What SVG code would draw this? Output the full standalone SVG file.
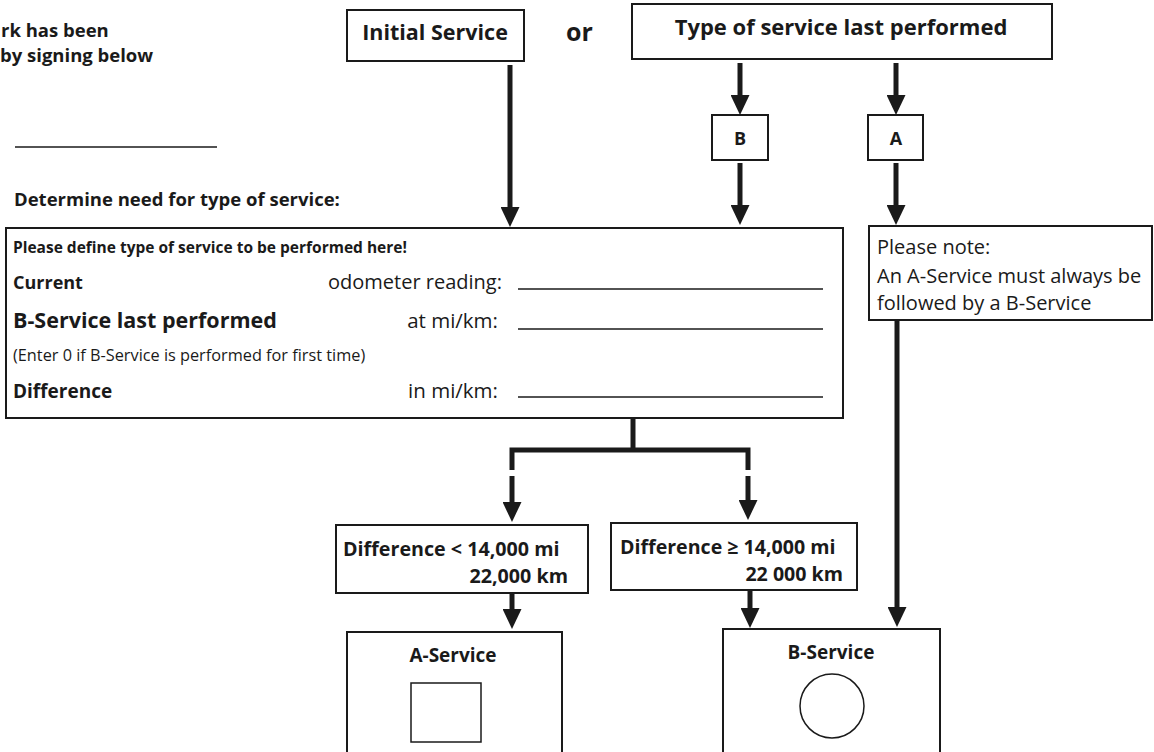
<svg xmlns="http://www.w3.org/2000/svg" width="1154" height="752" viewBox="0 0 1154 752">
<style>
text{font-family:"Open Sans","Noto Sans","Liberation Sans",sans-serif;fill:#1a1a1a}
.b{font-weight:700}
.box{fill:#fff;stroke:#1a1a1a;stroke-width:2}
.conn{fill:none;stroke:#1a1a1a;stroke-width:5}
.fill{fill:none;stroke:#1a1a1a;stroke-width:1.5}
</style>
<defs>
<marker id="ah" markerUnits="userSpaceOnUse" markerWidth="20" markerHeight="19" refX="0" refY="9.5" orient="auto" viewBox="0 0 20 19">
<path d="M0,0 L20,9.5 L0,19 z" fill="#1a1a1a"/>
</marker>
</defs>
<rect width="1154" height="752" fill="#fff"/>

<g id="header">
<text class="b" x="1" y="37" font-size="18.5">rk has been</text>
<text class="b" x="0" y="62" font-size="18.5">by signing below</text>
<line x1="15" y1="147" x2="217" y2="147" class="fill"/>
<text class="b" x="14" y="206" font-size="18.5">Determine need for type of service:</text>
<text class="b" x="566" y="41" font-size="25">or</text>
</g>

<g id="initial-service">
<rect class="box" x="347" y="10" width="177" height="51"/>
<text class="b" x="435" y="40" font-size="21.5" text-anchor="middle">Initial Service</text>
</g>

<g id="type-last">
<rect class="box" x="632" y="4" width="420" height="55"/>
<text class="b" x="841" y="35" font-size="22" text-anchor="middle">Type of service last performed</text>
</g>

<g id="node-b">
<rect class="box" x="712" y="115" width="56" height="45"/>
<text class="b" x="740" y="145" font-size="18" text-anchor="middle">B</text>
</g>

<g id="node-a">
<rect class="box" x="868" y="115" width="55" height="45"/>
<text class="b" x="896" y="145" font-size="18" text-anchor="middle">A</text>
</g>

<g id="define-box">
<rect class="box" x="6" y="228" width="837" height="190"/>
<text class="b" x="13" y="253" font-size="15.5">Please define type of service to be performed here!</text>
<text class="b" x="13" y="289" font-size="18">Current</text>
<text x="502" y="289" font-size="20" text-anchor="end">odometer reading:</text>
<line class="fill" x1="518" y1="289" x2="823" y2="289"/>
<text class="b" x="13" y="328" font-size="21.5">B-Service last performed</text>
<text x="498" y="328" font-size="20.5" text-anchor="end">at mi/km:</text>
<line class="fill" x1="518" y1="329" x2="823" y2="329"/>
<text x="13" y="361" font-size="16.3">(Enter 0 if B-Service is performed for first time)</text>
<text class="b" x="13" y="398" font-size="19">Difference</text>
<text x="498" y="398" font-size="20.5" text-anchor="end">in mi/km:</text>
<line class="fill" x1="518" y1="397" x2="823" y2="397"/>
</g>

<g id="note-box">
<rect class="box" x="869" y="226" width="283" height="94"/>
<text x="877" y="254" font-size="20">Please note:</text>
<text x="877" y="283" font-size="20">An A-Service must always be</text>
<text x="877" y="310" font-size="20">followed by a B-Service</text>
</g>

<g id="diff-less">
<rect class="box" x="336" y="525" width="252" height="68"/>
<text class="b" x="343" y="556" font-size="19.7">Difference &lt; 14,000 mi</text>
<text class="b" x="568" y="583" font-size="19.7" text-anchor="end">22,000 km</text>
</g>

<g id="diff-greater">
<rect class="box" x="611" y="523" width="246" height="67"/>
<text class="b" x="620" y="554" font-size="19.6">Difference ≥ 14,000 mi</text>
<text class="b" x="843" y="581" font-size="19.6" text-anchor="end">22 000 km</text>
</g>

<g id="a-service">
<rect class="box" x="347" y="632" width="215" height="130"/>
<text class="b" x="453" y="662" font-size="19" text-anchor="middle">A-Service</text>
<rect class="fill" x="411" y="683" width="70" height="59"/>
</g>

<g id="b-service">
<rect class="box" x="723" y="629" width="217" height="130"/>
<text class="b" x="831" y="659" font-size="19" text-anchor="middle">B-Service</text>
<circle class="fill" cx="832" cy="706" r="32"/>
</g>

<g id="connectors">
<line class="conn" x1="510" y1="65" x2="510" y2="207" marker-end="url(#ah)"/>
<line class="conn" x1="740" y1="63" x2="740" y2="95" marker-end="url(#ah)"/>
<line class="conn" x1="896" y1="63" x2="896" y2="95" marker-end="url(#ah)"/>
<line class="conn" x1="740" y1="163" x2="740" y2="205" marker-end="url(#ah)"/>
<line class="conn" x1="896" y1="163" x2="896" y2="205" marker-end="url(#ah)"/>
<line class="conn" x1="633" y1="418" x2="633" y2="450"/>
<polyline class="conn" points="512,470 512,450 748,450 748,470"/>
<line class="conn" x1="512" y1="476" x2="512" y2="502" marker-end="url(#ah)"/>
<line class="conn" x1="748" y1="476" x2="748" y2="500" marker-end="url(#ah)"/>
<line class="conn" x1="512" y1="593" x2="512" y2="609" marker-end="url(#ah)"/>
<line class="conn" x1="750" y1="590" x2="750" y2="608" marker-end="url(#ah)"/>
<line class="conn" x1="897" y1="320" x2="897" y2="607" marker-end="url(#ah)"/>
</g>
</svg>
